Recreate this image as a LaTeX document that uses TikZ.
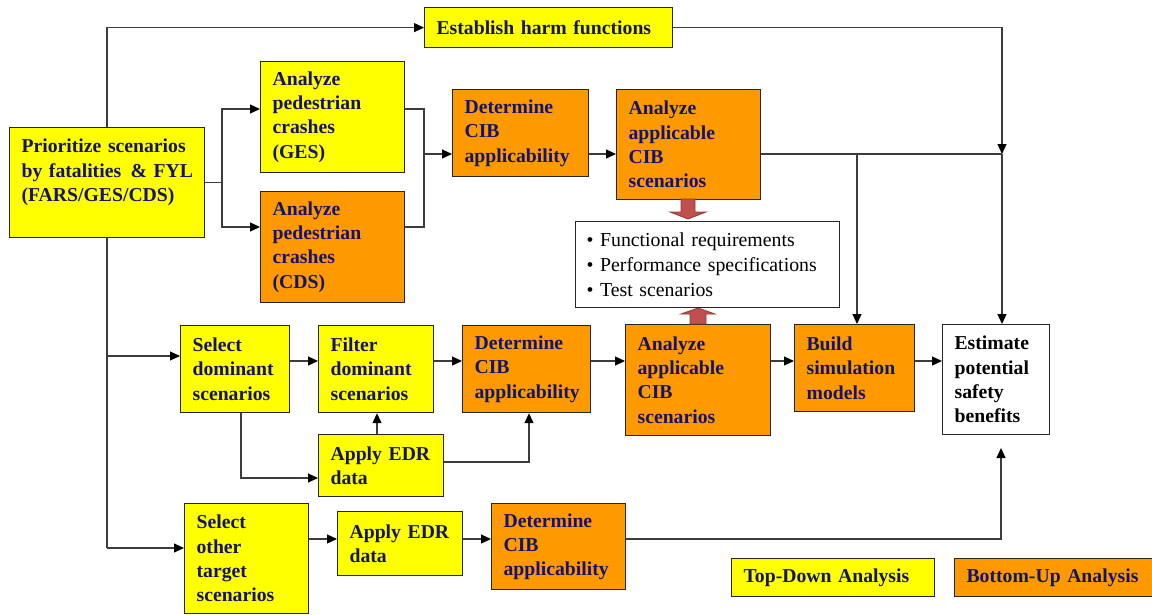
\documentclass[tikz,border=0pt]{standalone}
\usepackage{fontspec}
\setmainfont{Liberation Serif}
\usetikzlibrary{arrows.meta,calc}
\definecolor{ylw}{HTML}{FFFF00}
\definecolor{org}{HTML}{FF9900}
\definecolor{navy}{HTML}{14146E}
\definecolor{fatred}{HTML}{C0504D}
\definecolor{fatedge}{HTML}{8E3B39}
\definecolor{lncol}{HTML}{3C3C3C}
\begin{document}
\begin{tikzpicture}[x=1pt,y=-1pt,
  box/.style={draw=black!85, line width=1.2pt, anchor=north west, inner xsep=12pt, inner ysep=0pt,
    align=left, text=navy, font=\bfseries\fontsize{19.7}{24.3}\selectfont},
  yb/.style={box, fill=ylw},
  ob/.style={box, fill=org},
  wire/.style={draw=lncol, line width=1.2pt},
  arr/.style={wire, -{Triangle[length=10pt,width=9pt,color=black]}},
  fat/.style={fill=fatred, draw=fatedge, line width=0.8pt, line join=miter}]
\useasboundingbox (0,0) rectangle (1152,614);

% nodes
\node[yb, text width=224pt, minimum height=40pt] (harm) at (424,7) {\mbox{Establish harm functions}};
\node[yb, text width=171pt, minimum height=110pt] (prio) at (9,127) {\mbox{Prioritize scenarios}\\\mbox{by fatalities\hspace{9.5pt}\& FYL}\\(FARS/GES/CDS)\\\mbox{}};
\node[yb, text width=120pt, minimum height=111pt] (ges) at (260,61) {Analyze\\pedestrian\\crashes\\(GES)};
\node[ob, text width=120pt, minimum height=111pt] (cds) at (260,191) {Analyze\\pedestrian\\crashes\\(CDS)};
\node[ob, text width=112pt, minimum height=87pt] (det1) at (452,89) {Determine\\CIB\\applicability};
\node[ob, text width=120pt, minimum height=110pt] (acib1) at (616,89) {Analyze\\applicable\\CIB\\scenarios};
\node[draw=black!85, line width=1.2pt, fill=white, anchor=north west, inner xsep=11pt, inner ysep=0pt,
  text width=242pt, minimum height=86pt, align=left, text=black, font=\fontsize{19.8}{25}\selectfont] (bul) at (575,221)
  {\mbox{• Functional requirements}\\\mbox{• Performance specifications}\\\mbox{• Test scenarios}};
\node[yb, text width=85pt, minimum height=87pt] (seld) at (180,325) {Select\\dominant\\scenarios};
\node[yb, text width=91pt, minimum height=87pt] (filt) at (318,325) {Filter\\dominant\\scenarios};
\node[ob, text width=104pt, minimum height=87pt] (det2) at (462,325) {Determine\\CIB\\applicability};
\node[ob, text width=121pt, minimum height=111pt] (acib2) at (625,324) {Analyze\\applicable\\CIB\\scenarios};
\node[ob, text width=96pt, minimum height=87pt] (build) at (794,324) {Build\\simulation\\models};
\node[box, fill=white, text=black, text width=83pt, minimum height=110pt] (est) at (942,324) {Estimate\\potential\\safety\\benefits};
\node[yb, text width=101pt, minimum height=62pt] (edr1) at (318,434) {\mbox{Apply EDR}\\data};
\node[yb, text width=100pt, minimum height=110pt] (selo) at (184,503) {Select\\other\\target\\scenarios};
\node[yb, text width=101pt, minimum height=64pt] (edr2) at (337,511) {\mbox{Apply EDR}\\data};
\node[ob, text width=110pt, minimum height=86pt] (det3) at (491,503) {Determine\\CIB\\applicability};
\node[yb, text width=179pt, minimum height=38pt] (ltd) at (731,558) {\mbox{Top-Down Analysis}};
\node[ob, text width=180pt, minimum height=38pt] (lbu) at (954,558) {\mbox{Bottom-Up Analysis}};

% left trunk
\coordinate (vx) at (107,27);
\coordinate (v1) at (107,356);
\coordinate (vb) at (107,548);
\draw[arr] (prio.north -| vx) |- (harm.west);
\draw[wire] (prio.south -| vx) -- (vb);
\draw[arr] (v1) -- (v1 -| seld.west);
\draw[arr] (vb) -- (vb -| selo.west);

% top fork
\coordinate (f1) at (222,109);
\coordinate (f2) at (222,227);
\draw[wire] (prio.east) -- (prio.east -| f1);
\draw[arr] (f2) -- (f1) -- (f1 -| ges.west);
\draw[arr] (f1) -- (f2) -- (f2 -| cds.west);

% merge
\coordinate (m1) at (424,109);
\coordinate (m2) at (424,227);
\coordinate (m3) at (424,154);
\draw[wire] (m1 -| ges.east) -- (m1) -- (m2) -- (m2 -| cds.east);
\draw[arr] (m3) -- (m3 -| det1.west);
\draw[arr] (m3 -| det1.east) -- (m3 -| acib1.west);
\coordinate (j1) at (1002,154);
\coordinate (j2) at (857,154);
\draw[wire] (m3 -| acib1.east) -- (j1);
\draw[arr] (harm.east) -| (j1);
\draw[arr] (j2) -- (j2 |- build.north);
\draw[arr] (j1) -- (j1 |- est.north);

% middle row
\coordinate (r) at (0,361);
\draw[arr] (r -| seld.east) -- (r -| filt.west);
\draw[arr] (r -| filt.east) -- (r -| det2.west);
\draw[arr] (r -| det2.east) -- (r -| acib2.west);
\draw[arr] (r -| acib2.east) -- (r -| build.west);
\draw[arr] (r -| build.east) -- (r -| est.west);

% EDR links
\coordinate (s1) at (241,478);
\draw[arr] (s1 |- seld.south) -- (s1) -- (s1 -| edr1.west);
\coordinate (e1) at (377,434);
\draw[arr] (e1 |- edr1.north) -- (e1 |- filt.south);
\coordinate (e2) at (529,462);
\draw[arr] (e2 -| edr1.east) -- (e2) -- (e2 |- det2.south);

% bottom row
\coordinate (b) at (0,539);
\coordinate (b2) at (1001,539);
\coordinate (b3) at (1001,448);
\draw[arr] (b -| selo.east) -- (b -| edr2.west);
\draw[arr] (b -| edr2.east) -- (b -| det3.west);
\draw[arr] (b -| det3.east) -- (b2) -- (b3);

% fat arrows
\draw[fat] (681,199) -- (695,199) -- (695,212) -- (706,212) -- (688,219) -- (670,212) -- (681,212) -- cycle;
\draw[fat] (690,324) -- (690,314) -- (681,314) -- (698,308) -- (715,314) -- (706,314) -- (706,324) -- cycle;
\end{tikzpicture}
\end{document}
